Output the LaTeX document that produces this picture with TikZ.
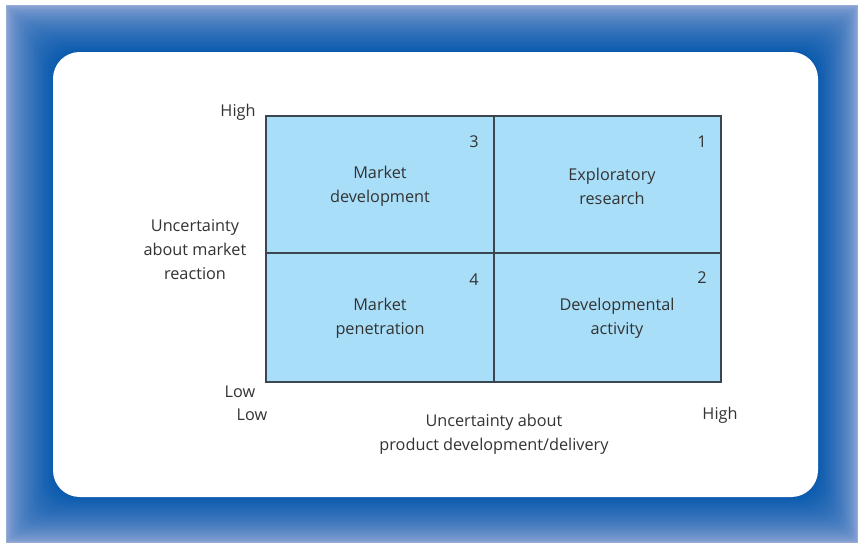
\documentclass[tikz,border=0pt]{standalone}
\usepackage{fontspec}
\setmainfont{Open Sans}
\usetikzlibrary{positioning}
\definecolor{bandlight}{HTML}{96AAD7}
\definecolor{banddark}{HTML}{0B5BAE}
\definecolor{cellblue}{HTML}{A9DEF9}
\definecolor{gridline}{HTML}{3C4650}
\definecolor{txt}{HTML}{333333}

\begin{document}
\begin{tikzpicture}[x=0.75pt, y=-0.75pt,
  cell/.style={draw=gridline, fill=cellblue, line width=1.1pt, inner sep=0pt},
  lbl/.style={align=center, text=txt, font=\fontsize{12.2}{18}\selectfont},
  num/.style={text=txt, font=\fontsize{12.2}{15}\selectfont, inner sep=0pt}]

  \useasboundingbox (0,0) rectangle (858,543);

  % blue frame, shading from the edge inwards
  \foreach \i in {0,...,40} {
    \pgfmathsetmacro\f{\i/40}
    \pgfmathsetmacro\p{100*(\f^0.6)}
    \colorlet{bandmix}{banddark!\p!bandlight}
    \fill[bandmix, rounded corners=20*\f] (6+47*\f, 5+47*\f) rectangle (858-40*\f, 543-46*\f);
  }
  \fill[white, rounded corners=20] (53,52) rectangle (818,497);

  % the four cells
  \node[cell, minimum width=171pt, minimum height=102.75pt] (q3) at (380,184.5) {};
  \node[cell, minimum width=170.25pt, minimum height=102.75pt] (q1) at (607.5,184.5) {};
  \node[cell, minimum width=171pt, minimum height=96.75pt] (q4) at (380,317.5) {};
  \node[cell, minimum width=170.25pt, minimum height=96.75pt] (q2) at (607.5,317.5) {};

  % cell texts
  \node[lbl] (mdev) at (380,186) {Market\\development};
  \node[lbl] (expl) at (612,186) {Exploratory\\research};
  \node[lbl] (mpen) at (380,318) {Market\\penetration};
  \node[lbl] (devl) at (617,318) {Developmental\\activity};

  \node[num] (n3) at (474,142) {3};
  \node[num] (n1) at (702,142) {1};
  \node[num] (n4) at (474,280) {4};
  \node[num] (n2) at (702,278) {2};

  % axis labels
  \node[lbl] (yhigh) at (238,112) {High};
  \node[lbl] (ylow) at (240,392) {Low};
  \node[lbl] (xlow) at (252,415) {Low};
  \node[lbl] (xhigh) at (720,415) {High};
  \node[lbl] (ytitle) at (195,250) {Uncertainty\\about market\\reaction};
  \node[lbl] (xtitle) at (494,434) {Uncertainty about\\product development/delivery};
\end{tikzpicture}
\end{document}
